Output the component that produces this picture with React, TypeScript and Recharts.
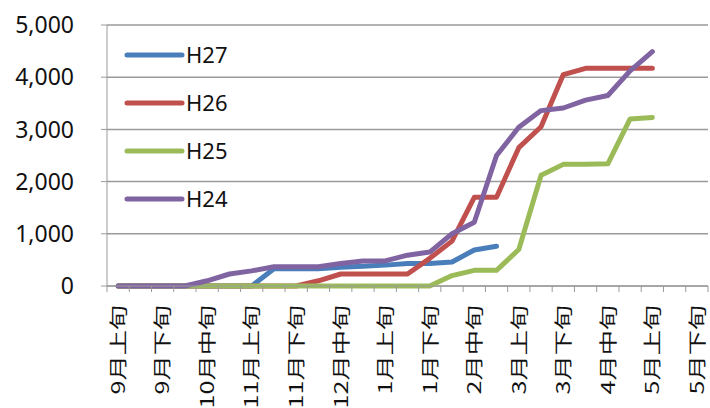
import { LineChart, Line, CartesianGrid, XAxis, YAxis, Legend } from "recharts";

const categories = [
  "9月上旬", "9月中旬", "9月下旬",
  "10月上旬", "10月中旬", "10月下旬",
  "11月上旬", "11月中旬", "11月下旬",
  "12月上旬", "12月中旬", "12月下旬",
  "1月上旬", "1月中旬", "1月下旬",
  "2月上旬", "2月中旬", "2月下旬",
  "3月上旬", "3月中旬", "3月下旬",
  "4月上旬", "4月中旬", "4月下旬",
  "5月上旬", "5月中旬", "5月下旬",
];

const h27 = [0, 0, 0, 0, 0, 0, 0, 330, 330, 330, 360, 380, 400, 430, 430, 460, 690, 760, null, null, null, null, null, null, null, null, null];
const h26 = [0, 0, 0, 0, 0, 0, 0, 0, 0, 100, 230, 230, 230, 230, 530, 860, 1700, 1700, 2650, 3050, 4050, 4170, 4170, 4170, 4170, null, null];
const h25 = [0, 0, 0, 0, 0, 0, 0, 0, 0, 0, 0, 0, 0, 0, 0, 200, 300, 300, 700, 2120, 2330, 2330, 2340, 3200, 3230, null, null];
const h24 = [0, 0, 0, 0, 100, 230, 290, 370, 370, 370, 430, 480, 480, 590, 650, 1000, 1220, 2500, 3040, 3360, 3410, 3560, 3650, 4120, 4490, null, null];

const yTicks = [0, 1000, 2000, 3000, 4000, 5000];

const series = [
  { key: "H27", color: "#4a7ebb" },
  { key: "H26", color: "#c0504d" },
  { key: "H25", color: "#9bbb59" },
  { key: "H24", color: "#8064a2" },
];

const data = categories.map((c, i) => ({
  name: c,
  H27: h27[i],
  H26: h26[i],
  H25: h25[i],
  H24: h24[i],
}));

const W = 710;
const H = 408;
const LEFT = 107;
const RIGHT = 2;
const CW = (W - LEFT - RIGHT) / categories.length;
const AXIS = "#9a9a9a";

const XTick = (props: any) => {
  const { x, y, payload } = props;
  return (
    <g>
      <line x1={x - CW / 2} x2={x - CW / 2} y1={y} y2={y + 6} stroke={AXIS} />
      <line x1={x + CW / 2} x2={x + CW / 2} y1={y} y2={y + 6} stroke={AXIS} />
      <text
        transform={`translate(${x - 1},${y + 19}) scale(1,1.4) rotate(-90)`}
        textAnchor="end"
        dominantBaseline="central"
        fontSize={18}
        fontFamily="'Noto Sans CJK JP', sans-serif"
        fill="#111"
      >
        {payload.value}
      </text>
    </g>
  );
};

const renderLegend = () => (
  <svg width={140} height={200}>
    {series.map((s, i) => {
      const y = 25 + i * 48;
      return (
        <g key={s.key}>
          <line x1={7} x2={62} y1={y} y2={y} stroke={s.color} strokeWidth={5} strokeLinecap="round" />
          <text x={66} y={y + 8} fontSize={22} fontFamily="'Noto Sans', sans-serif" fill="#111">
            {s.key}
          </text>
        </g>
      );
    })}
  </svg>
);

export default function App() {
  return (
    <div style={{ position: "absolute", left: 0, top: 0, background: "#fff" }}>
      <LineChart width={W} height={H} data={data} margin={{ top: 25, right: RIGHT, left: 0, bottom: 0 }}>
        <CartesianGrid vertical={false} stroke={AXIS} strokeWidth={1.5} />
        <XAxis
          dataKey="name"
          interval={1}
          height={122}
          padding={{ left: CW / 2, right: CW / 2 }}
          tickSize={0}
          tickMargin={0}
          tick={<XTick />}
          axisLine={{ stroke: AXIS }}
          tickLine={false}
        />
        <YAxis
          width={LEFT}
          domain={[0, 5000]}
          ticks={yTicks}
          tickFormatter={(v: number) => v.toLocaleString("en-US")}
          tick={{ fontSize: 23, fill: "#111", fontFamily: "'Noto Sans', sans-serif" }}
          tickSize={6}
          tickMargin={27}
          axisLine={{ stroke: AXIS }}
          tickLine={{ stroke: AXIS }}
        />
        <Legend
          layout="vertical"
          align="center"
          verticalAlign="middle"
          content={renderLegend}
          wrapperStyle={{ left: 120, top: 30, width: 140, height: 200 }}
        />
        {series.map((s) => (
          <Line
            key={s.key}
            type="linear"
            dataKey={s.key}
            stroke={s.color}
            strokeWidth={5}
            strokeLinejoin="round"
            strokeLinecap="round"
            dot={false}
            activeDot={false}
            isAnimationActive={false}
          />
        ))}
      </LineChart>
    </div>
  );
}
